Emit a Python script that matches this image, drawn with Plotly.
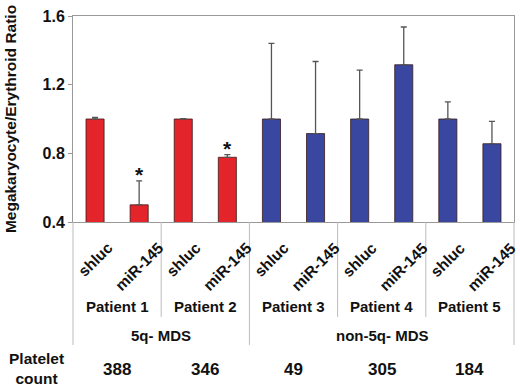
import plotly.graph_objects as go

conditions = ["shluc", "miR-145"] * 5
patients = ["Patient 1", "Patient 2", "Patient 3", "Patient 4", "Patient 5"]
values = [1.0, 0.50, 1.0, 0.777, 1.0, 0.915, 1.0, 1.316, 1.0, 0.856]
errors = [0.01, 0.14, 0.002, 0.015, 0.44, 0.42, 0.285, 0.22, 0.10, 0.13]
groups = ["5q- MDS", "non-5q- MDS"]
group_patients = [2, 3]
platelet_counts = ["388", "346", "49", "305", "184"]
significant = [False, True, False, True, False, False, False, False, False, False]
y_ticks = [0.4, 0.8, 1.2, 1.6]

RED = "#E3242B"
BLUE = "#3947A0"
FONT = "Liberation Sans, Arial, Helvetica, sans-serif"

n = len(values)
xs = list(range(n))
colors = []
for gi, cnt in enumerate(group_patients):
    colors += [RED if gi == 0 else BLUE] * (cnt * 2)

fig = go.Figure()
fig.add_trace(go.Bar(
    x=xs, y=values, width=0.41,
    marker=dict(color=colors, line=dict(color="#3a1a1a", width=0.8)),
    error_y=dict(type="data", array=errors, symmetric=False, arrayminus=[0]*n,
                 color="#555555", thickness=1.3, width=3),
    hoverinfo="skip",
))

ann = []
# condition labels
for i, c in enumerate(conditions):
    ann.append(dict(x=i, xref="x", y=-0.068, yref="paper", text="<b>%s</b>" % c,
                    textangle=-45, showarrow=False, xanchor="center", yanchor="top",
                    font=dict(size=15.5, color="#111", family=FONT)))
# significance
for i, s in enumerate(significant):
    if s:
        ann.append(dict(x=i, xref="x", y=values[i] + errors[i], yref="y", text="<b>*</b>",
                        showarrow=False, xanchor="center", yanchor="bottom", yshift=-7,
                        font=dict(size=21, color="#111", family=FONT)))
# patient labels and platelet counts
for p, name in enumerate(patients):
    ann.append(dict(x=2 * p + 0.5, xref="x", y=-0.4126, yref="paper", text="<b>%s</b>" % name,
                    showarrow=False, xanchor="center", yanchor="middle",
                    font=dict(size=15, color="#111", family=FONT)))
    ann.append(dict(x=2 * p + 0.5, xref="x", y=-0.714, yref="paper", text="<b>%s</b>" % platelet_counts[p],
                    showarrow=False, xanchor="center", yanchor="middle",
                    font=dict(size=17, color="#111", family=FONT)))
# group labels
start = 0
for g, cnt in zip(groups, group_patients):
    center = start + cnt - 0.5
    ann.append(dict(x=center, xref="x", y=-0.553, yref="paper", text="<b>%s</b>" % g,
                    showarrow=False, xanchor="center", yanchor="middle",
                    font=dict(size=15, color="#111", family=FONT)))
    start += cnt * 2
ann.append(dict(x=-0.0839, xref="paper", y=-0.709, yref="paper", text="<b>Platelet<br>count</b>",
                showarrow=False, xanchor="center", yanchor="middle",
                font=dict(size=15.5, color="#111", family=FONT)))

# separator lines
shapes = []
for k in range(0, n + 1, 2):
    shapes.append(dict(type="line", xref="x domain", yref="paper", x0=k / n, x1=k / n,
                       y0=0, y1=-0.461, line=dict(color="#bbbbbb", width=1)))
bounds = [0]
for cnt in group_patients:
    bounds.append(bounds[-1] + cnt * 2)
for b in bounds:
    shapes.append(dict(type="line", xref="x domain", yref="paper", x0=b / n, x1=b / n,
                       y0=-0.461, y1=-0.597, line=dict(color="#bbbbbb", width=1)))

fig.update_layout(
    width=520, height=391,
    margin=dict(l=73, r=6, t=16, b=169, autoexpand=False),
    paper_bgcolor="white", plot_bgcolor="white",
    showlegend=False,
    annotations=ann, shapes=shapes,
    font=dict(family=FONT, color="#111"),
    xaxis=dict(range=[-0.5, n - 0.5], showticklabels=False, ticks="",
               showline=True, linecolor="#999999", linewidth=1, mirror=True,
               showgrid=False, zeroline=False, automargin=False),
    yaxis=dict(range=[y_ticks[0], y_ticks[-1]], tickvals=y_ticks,
               ticktext=["<b>%.1f</b>" % v for v in y_ticks],
               tickfont=dict(size=16, color="#111", family=FONT),
               ticks="outside", ticklen=4, tickcolor="#999999",
               showline=True, linecolor="#999999", linewidth=1, mirror=True,
               showgrid=False, zeroline=False, automargin=False,
               title=dict(text="<b>Megakaryocyte/Erythroid Ratio</b>", standoff=22,
                          font=dict(size=15.5, color="#111", family=FONT))),
)

fig.write_html("out.html", config={"displayModeBar": False},
               post_script="document.body.style.margin='0';document.body.style.overflow='hidden';")
